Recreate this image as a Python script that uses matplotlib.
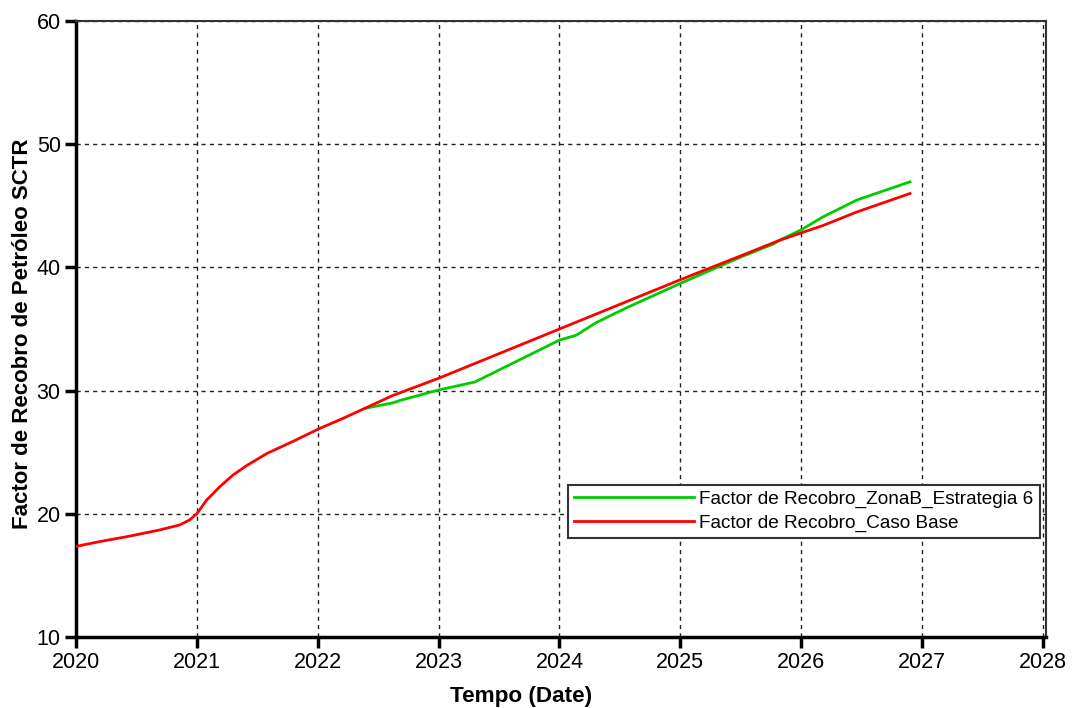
import matplotlib
matplotlib.use("Agg")
import matplotlib.pyplot as plt

plt.rcParams['font.family'] = ['Liberation Sans', 'DejaVu Sans']

# Caso Base (red)
base_years = [2020.0, 2020.2, 2020.42, 2020.69, 2020.86, 2020.94, 2021.0, 2021.08,
              2021.19, 2021.3, 2021.41, 2021.58, 2021.8, 2022.01, 2022.21, 2022.39,
              2022.62, 2023.0, 2023.5, 2024.0, 2024.5, 2025.0, 2025.49, 2025.82,
              2026.0, 2026.18, 2026.46, 2026.9]
base_vals = [17.35, 17.75, 18.14, 18.68, 19.1, 19.5, 20.0, 21.1,
             22.2, 23.15, 23.9, 24.9, 25.9, 26.9, 27.75, 28.56,
             29.6, 31.0, 33.0, 35.0, 37.0, 39.0, 40.9, 42.2,
             42.8, 43.4, 44.5, 46.0]

# ZonaB Estrategia 6 (green)
zb_years = [2022.39, 2022.62, 2022.68, 2023.0, 2023.3, 2023.65, 2024.0, 2024.14,
            2024.3, 2024.55, 2025.0, 2025.49, 2025.77, 2025.82, 2026.0, 2026.18,
            2026.46, 2026.9]
zb_vals = [28.56, 29.0, 29.2, 30.05, 30.7, 32.4, 34.1, 34.5,
           35.5, 36.7, 38.7, 40.8, 41.9, 42.2, 43.05, 44.1,
           45.47, 46.95]

x_ticks = [2020, 2021, 2022, 2023, 2024, 2025, 2026, 2027, 2028]
y_ticks = [10, 20, 30, 40, 50, 60]

fig = plt.figure(figsize=(10.79, 7.08), dpi=100)
ax = fig.add_axes([0.0704, 0.1003, 0.8990, 0.8700])

ax.plot(zb_years, zb_vals, color='#00cc00', lw=2.0,
        label='Factor de Recobro_ZonaB_Estrategia 6', zorder=3)
ax.plot(base_years, base_vals, color='#ff0000', lw=2.0,
        label='Factor de Recobro_Caso Base', zorder=4)

ax.set_xlim(2020, 2028.025)
ax.set_ylim(10, 60)
ax.set_xticks(x_ticks)
ax.set_xticklabels([str(t) for t in x_ticks])
ax.set_yticks(y_ticks)

ax.grid(True, color='#222222', linestyle=(0, (3, 3)), linewidth=1.0)
ax.set_axisbelow(True)

for s in ['left', 'bottom']:
    ax.spines[s].set_linewidth(2.5)
    ax.spines[s].set_color('black')
for s in ['top', 'right']:
    ax.spines[s].set_linewidth(1.5)
    ax.spines[s].set_color('#333333')

ax.tick_params(axis='both', direction='out', length=8, width=2.5,
               labelsize=15.5, colors='black', pad=3)

ax.set_xlabel('Tempo (Date)', fontsize=16.2, fontweight='bold')
ax.xaxis.set_label_coords(0.459, -0.079)
ax.set_ylabel('Factor de Recobro de Petróleo SCTR', fontsize=16,
              fontweight='bold')
ax.yaxis.set_label_coords(-0.0445, 0.492)

leg = ax.legend(loc='lower right', bbox_to_anchor=(0.9936, 0.1603),
                fontsize=13.65, frameon=True, fancybox=False, framealpha=1,
                edgecolor='#333333', handlelength=6.3, handletextpad=0.3,
                borderpad=0.33, labelspacing=0.33, borderaxespad=0)
leg.get_frame().set_linewidth(1.5)

fig.savefig('out.png', dpi=100)
